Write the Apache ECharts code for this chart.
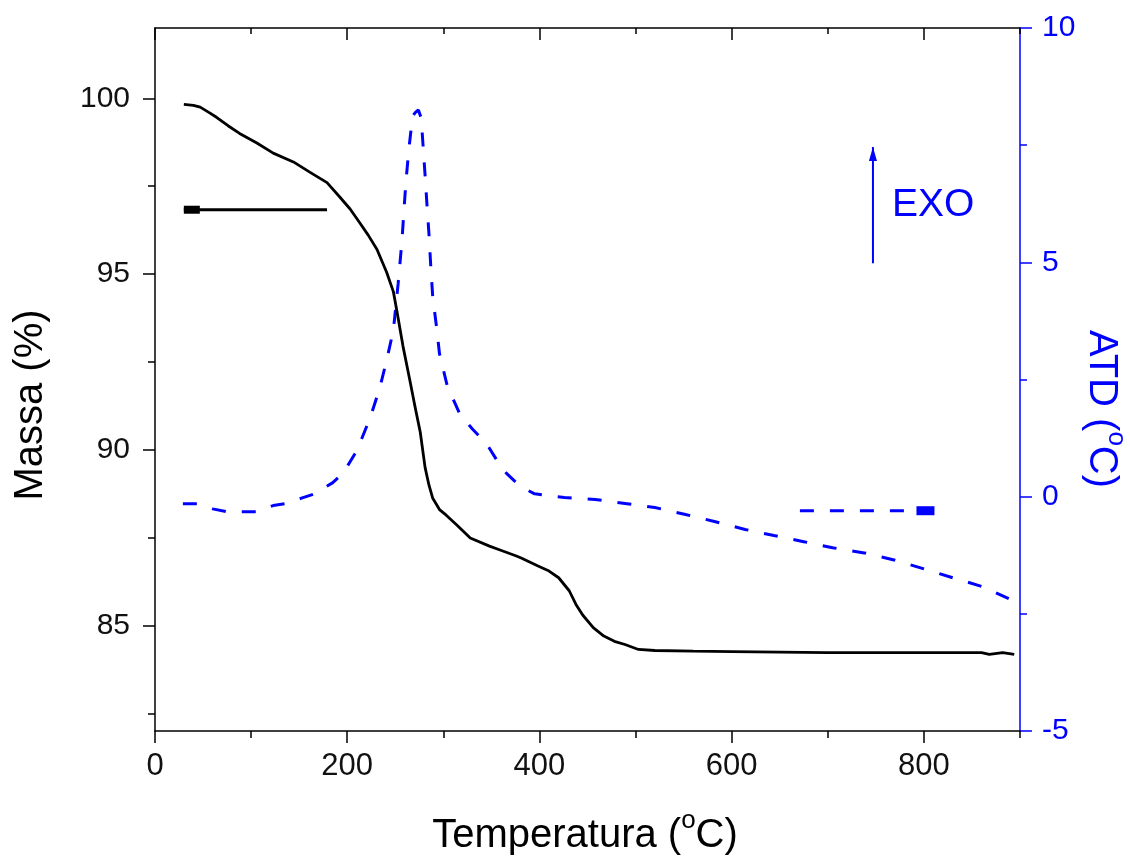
<!DOCTYPE html>
<html>
<head>
<meta charset="utf-8">
<script src="https://cdn.jsdelivr.net/npm/echarts@6/dist/echarts.min.js"></script>
<style>
  html, body { margin: 0; padding: 0; background: #ffffff; }
  #chart { width: 1130px; height: 861px; }
</style>
</head>
<body>
<div id="chart"></div>
<script>
// TG curve: temperature (°C) and remaining mass (%)
const tgTemp = [30, 40, 47, 56, 64, 76, 88, 106, 123, 144, 161, 179, 192, 203, 213, 222, 231, 241, 248, 252,
  258, 265, 270, 276, 281, 285, 289, 296, 303, 314, 328, 348, 359, 376, 381, 398, 410, 420, 431, 438,
  445, 456, 467, 478, 489, 503, 520, 560, 600, 602, 700, 800, 860, 862, 868, 870, 882, 884, 894];
const tgMass = [99.83, 99.8, 99.75, 99.6, 99.46, 99.22, 99.0, 98.73, 98.44, 98.19, 97.9, 97.6, 97.2, 96.85, 96.46, 96.1, 95.7, 95.05, 94.5, 93.9,
  92.95, 92.0, 91.3, 90.5, 89.5, 89.0, 88.62, 88.3, 88.14, 87.86, 87.49, 87.26, 87.15, 86.98, 86.92, 86.7, 86.55, 86.36, 85.99, 85.6,
  85.3, 84.94, 84.7, 84.55, 84.46, 84.32, 84.29, 84.27, 84.26, 84.23, 84.23, 84.23, 84.23, 84.18, 84.18, 84.23, 84.23, 84.18, 84.18];

// ATD curve: temperature (°C) and temperature difference (°C)
const atdTemp = [29, 44, 60, 75, 92, 106, 123, 135, 154, 166, 185, 196, 210, 224, 234, 241, 248, 253, 257, 259,
  261, 264, 268, 271, 274, 277, 279, 281, 283, 285, 287, 289, 293, 296, 304, 317, 330, 345, 355, 366,
  380, 395, 426, 458, 491, 520, 552, 582, 614, 644, 675, 705, 738, 769, 800, 830, 861, 893];
const atdValue = [-0.15, -0.15, -0.26, -0.32, -0.32, -0.32, -0.19, -0.15, -0.02, 0.06, 0.30, 0.51, 0.98, 1.69, 2.33, 2.91, 3.55, 4.55, 5.47, 6.1,
  6.7, 7.39, 8.12, 8.2, 8.25, 8.08, 7.46, 6.86, 6.22, 5.62, 4.89, 4.25, 3.61, 3.05, 2.37, 1.77, 1.45, 1.13, 0.8, 0.49,
  0.22, 0.06, -0.02, -0.06, -0.15, -0.23, -0.38, -0.53, -0.70, -0.83, -0.96, -1.09, -1.20, -1.35, -1.54, -1.73, -1.92, -2.22];

// Tick values
const tempMajorTicks = [0, 200, 400, 600, 800];
const tempMinorTicks = [100, 300, 500, 700, 900];
const massMajorTicks = [85, 90, 95, 100];
const massMinorTicks = [82.5, 87.5, 92.5, 97.5];

// Arrows linking each curve to its axis, and the EXO direction arrow
const tgArrowTemp = [30, 179];
const tgArrowMass = 96.83;
const atdArrowTemp = [671, 811];
const atdArrowValue = -0.30;
const exoArrowTemp = 747;
const exoArrowValue = [4.98, 7.46];

const FONT = 'Liberation Sans, Arial, Helvetica, sans-serif';
const BLACK = '#000000';
const BLUE = '#0000ff';

const zip = (xs, ys) => xs.map((x, i) => [x, ys[i]]);

// rich-text styles: normal text plus a raised small "o" used as the degree mark
const richUnit = (color) => ({
  n: { fontSize: 40, fontFamily: FONT, fill: color, lineHeight: 44 },
  s: { fontSize: 26, fontFamily: FONT, fill: color, lineHeight: 26, padding: [0, 0, 30, 0] }
});

const chart = echarts.init(document.getElementById('chart'), null, { renderer: 'canvas' });

const baseX = { type: 'value', min: 0, max: 900, gridIndex: 0, splitLine: { show: false } };
const baseMass = { type: 'value', min: 82, max: 102, splitLine: { show: false } };

chart.setOption({
  backgroundColor: '#ffffff',
  animation: false,
  grid: { left: 155, right: 110, top: 28, bottom: 130, containLabel: false },
  xAxis: [
    Object.assign({}, baseX, {
      position: 'bottom',
      axisLine: { show: true, onZero: false, lineStyle: { color: BLACK, width: 1.5 } },
      axisTick: { show: true, inside: false, length: 12, customValues: tempMajorTicks, lineStyle: { color: BLACK, width: 1.5 } },
      axisLabel: { show: true, customValues: tempMajorTicks, margin: 20, fontSize: 31, fontFamily: FONT, color: '#111' }
    }),
    Object.assign({}, baseX, {
      position: 'bottom',
      axisLine: { show: false, onZero: false },
      axisTick: { show: true, inside: false, length: 7, customValues: tempMinorTicks, lineStyle: { color: BLACK, width: 1.5 } },
      axisLabel: { show: false }
    }),
    Object.assign({}, baseX, {
      position: 'top',
      axisLine: { show: true, onZero: false, lineStyle: { color: BLACK, width: 1.5 } },
      axisTick: { show: true, inside: true, length: 12, customValues: tempMajorTicks, lineStyle: { color: BLACK, width: 1.5 } },
      axisLabel: { show: false }
    }),
    Object.assign({}, baseX, {
      position: 'top',
      axisLine: { show: false, onZero: false },
      axisTick: { show: true, inside: true, length: 6, customValues: tempMinorTicks, lineStyle: { color: BLACK, width: 1.5 } },
      axisLabel: { show: false }
    })
  ],
  yAxis: [
    Object.assign({}, baseMass, {
      position: 'left',
      axisLine: { show: true, onZero: false, lineStyle: { color: BLACK, width: 1.5 } },
      axisTick: { show: true, inside: false, length: 12, customValues: massMajorTicks, lineStyle: { color: BLACK, width: 1.5 } },
      axisLabel: { show: true, customValues: massMajorTicks, margin: 25, fontSize: 30, fontFamily: FONT, color: '#111' }
    }),
    Object.assign({}, baseMass, {
      position: 'left',
      axisLine: { show: false, onZero: false },
      axisTick: { show: true, inside: false, length: 7, customValues: massMinorTicks, lineStyle: { color: BLACK, width: 1.5 } },
      axisLabel: { show: false }
    }),
    {
      type: 'value', min: -5, max: 10, interval: 5, position: 'right',
      splitLine: { show: false },
      axisLine: { show: true, onZero: false, lineStyle: { color: BLUE, width: 1.5 } },
      axisTick: { show: true, inside: false, length: 12, lineStyle: { color: BLUE, width: 1.5 } },
      minorTick: { show: true, splitNumber: 2, length: 7, lineStyle: { color: BLUE, width: 1.5 } },
      axisLabel: { show: true, margin: 22, fontSize: 30, fontFamily: FONT, color: BLUE }
    }
  ],
  graphic: [
    {
      type: 'text', x: 31, y: 405, rotation: Math.PI / 2,
      style: { text: 'Massa (%)', fill: BLACK, font: '40px ' + FONT, align: 'center', verticalAlign: 'middle' }
    },
    {
      type: 'text', x: 1101, y: 409, rotation: -Math.PI / 2,
      style: { text: '{n|ATD (}{s|o}{n|C)}', align: 'center', verticalAlign: 'middle', rich: richUnit(BLUE) }
    },
    {
      type: 'text', x: 585, y: 836,
      style: { text: '{n|Temperatura (}{s|o}{n|C)}', align: 'center', verticalAlign: 'middle', rich: richUnit(BLACK) }
    },
    {
      type: 'text', x: 892, y: 205,
      style: { text: 'EXO', fill: BLUE, font: '39px ' + FONT, align: 'left', verticalAlign: 'middle' }
    }
  ],
  series: [
    {
      name: 'TG', type: 'line', xAxisIndex: 0, yAxisIndex: 0,
      data: zip(tgTemp, tgMass), showSymbol: false, symbol: 'none',
      lineStyle: { color: BLACK, width: 2.8 }, z: 3
    },
    {
      name: 'ATD', type: 'line', xAxisIndex: 0, yAxisIndex: 2,
      data: zip(atdTemp, atdValue), showSymbol: false, symbol: 'none',
      lineStyle: { color: BLUE, width: 3, type: [14, 16] }, z: 2
    },
    {
      name: 'TG arrow', type: 'line', xAxisIndex: 0, yAxisIndex: 0,
      data: [
        { value: [tgArrowTemp[0], tgArrowMass], symbol: 'rect', symbolSize: [16, 8], symbolOffset: [8, 0] },
        { value: [tgArrowTemp[1], tgArrowMass], symbol: 'none' }
      ],
      showSymbol: true, itemStyle: { color: BLACK },
      lineStyle: { color: BLACK, width: 2.8 }, z: 3
    },
    {
      name: 'ATD arrow', type: 'line', xAxisIndex: 0, yAxisIndex: 2,
      data: [
        { value: [atdArrowTemp[0], atdArrowValue], symbol: 'none' },
        { value: [atdArrowTemp[1], atdArrowValue], symbol: 'rect', symbolSize: [18, 9], symbolOffset: [-9, 0] }
      ],
      showSymbol: true, itemStyle: { color: BLUE },
      lineStyle: { color: BLUE, width: 3, type: [14, 16] }, z: 3
    },
    {
      name: 'EXO', type: 'line', xAxisIndex: 0, yAxisIndex: 2,
      data: [
        { value: [exoArrowTemp, exoArrowValue[0]], symbol: 'none' },
        { value: [exoArrowTemp, exoArrowValue[1]], symbol: 'triangle', symbolSize: [8, 14], symbolOffset: [0, 7] }
      ],
      showSymbol: true, itemStyle: { color: BLUE },
      lineStyle: { color: BLUE, width: 2 }, z: 3
    }
  ]
});
</script>
</body>
</html>
